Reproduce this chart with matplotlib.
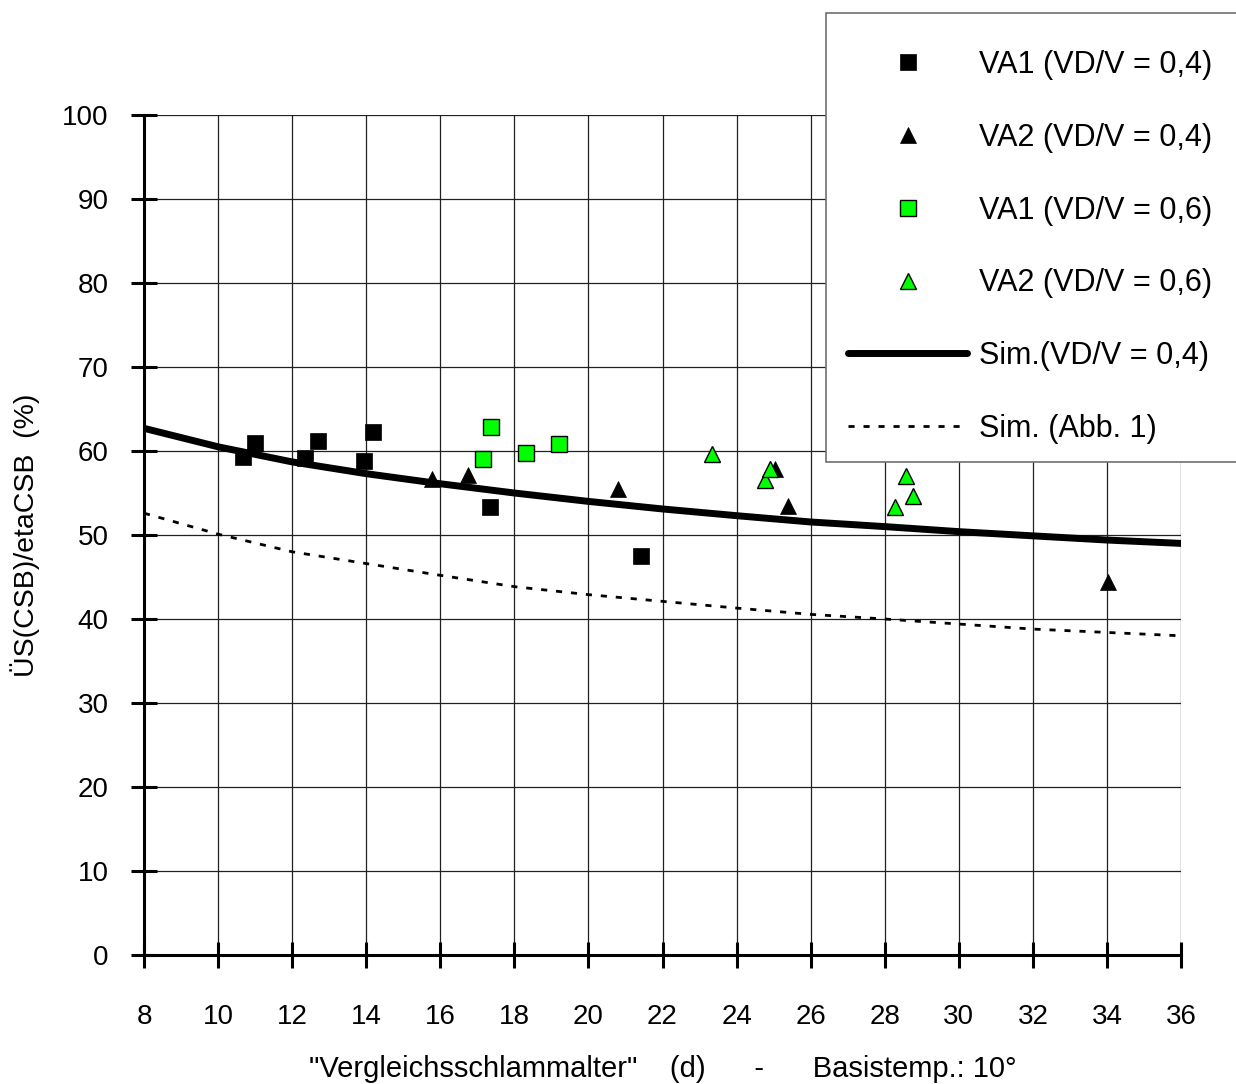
import numpy as np
import matplotlib.pyplot as plt
from matplotlib.patches import Rectangle

plt.rcParams['font.family'] = ['Liberation Sans', 'DejaVu Sans']

# measured points, VD/V = 0,4
va1_04_x = [10.68, 11.0, 12.36, 12.70, 13.94, 14.19, 17.34, 21.41]
va1_04_y = [59.25, 61.0, 59.2, 61.2, 58.8, 62.3, 53.3, 47.5]
va2_04_x = [15.77, 16.76, 20.80, 25.04, 25.38, 34.04]
va2_04_y = [56.7, 57.2, 55.45, 57.9, 53.5, 44.4]

# measured points, VD/V = 0,6
va1_06_x = [17.16, 17.37, 18.32, 19.21]
va1_06_y = [59.1, 62.8, 59.8, 60.8]
va2_06_x = [23.34, 24.78, 24.90, 28.29, 28.57, 28.77]
va2_06_y = [59.6, 56.6, 57.8, 53.3, 57.0, 54.7]

# simulation curves
sim_x = [8, 10, 12, 14, 16, 18, 20, 22, 24, 26, 28, 30, 32, 34, 36]
sim_04 = [62.7, 60.5, 58.7, 57.3, 56.1, 55.0, 54.0, 53.1, 52.3, 51.55, 51.0, 50.4, 49.9, 49.4, 49.0]
sim_abb1 = [52.6, 50.1, 48.0, 46.6, 45.2, 43.85, 42.9, 42.1, 41.3, 40.55, 40.0, 39.4, 38.8, 38.4, 38.0]

green = '#00ff00'
fs = 20

fig = plt.figure(figsize=(12.36, 10.84), dpi=100)
W, H = 1236, 1084
ax = fig.add_axes([144 / W, 129 / H, 1037 / W, 840 / H])

h1, = ax.plot(va1_04_x, va1_04_y, 's', ms=11, mfc='black', mec='black', mew=0.5, zorder=3)
h2, = ax.plot(va2_04_x, va2_04_y, '^', ms=12, mfc='black', mec='black', mew=0.5, zorder=3)
h3, = ax.plot(va1_06_x, va1_06_y, 's', ms=11, mfc=green, mec='black', mew=1, zorder=3)
h4, = ax.plot(va2_06_x, va2_06_y, '^', ms=12, mfc=green, mec='black', mew=1, zorder=3)
h5, = ax.plot(sim_x, sim_04, '-', color='black', lw=5, solid_capstyle='round', zorder=2)
h6, = ax.plot(sim_x, sim_abb1, color='black', lw=2, linestyle=(0, (2.2, 3.2)), zorder=2)

ax.set_xlim(8, 36)
ax.set_ylim(0, 100)
ax.set_xticks(np.arange(8, 37, 2))
ax.set_yticks(np.arange(0, 101, 10))
ax.grid(True, color='#202020', lw=0.9)
ax.set_axisbelow(True)

for s in ['top', 'right']:
    ax.spines[s].set_visible(False)
for s in ['left', 'bottom']:
    ax.spines[s].set_linewidth(2.2)

ax.tick_params(axis='both', direction='inout', length=19, width=2.2, labelsize=fs)
ax.tick_params(axis='y', pad=16)
ax.tick_params(axis='x', pad=26)

ax.set_xlabel('"Vergleichsschlammalter"    (d)      -      Basistemp.: 10°', fontsize=21, labelpad=18)
ax.set_ylabel('ÜS(CSB)/etaCSB  (%)', fontsize=20.5, labelpad=16)

# legend box, running off the right edge
fig.patches.append(Rectangle((826 / W, (H - 462) / H), 0.4, 449 / H,
                             transform=fig.transFigure, facecolor='white',
                             edgecolor='#707070', lw=1.2, zorder=4))

leg = fig.legend([h1, h2, h3, h4, h5, h6],
                 ['VA1 (VD/V = 0,4)', 'VA2 (VD/V = 0,4)', 'VA1 (VD/V = 0,6)',
                  'VA2 (VD/V = 0,6)', 'Sim.(VD/V = 0,4)', 'Sim. (Abb. 1)'],
                 loc='upper left', bbox_to_anchor=(848 / W, (H - 50) / H),
                 frameon=False, fontsize=22, numpoints=1, handlelength=3.9,
                 handletextpad=0.4, labelspacing=1.4, borderpad=0, borderaxespad=0)
leg.set_zorder(6)

fig.savefig('out.png', dpi=100)
